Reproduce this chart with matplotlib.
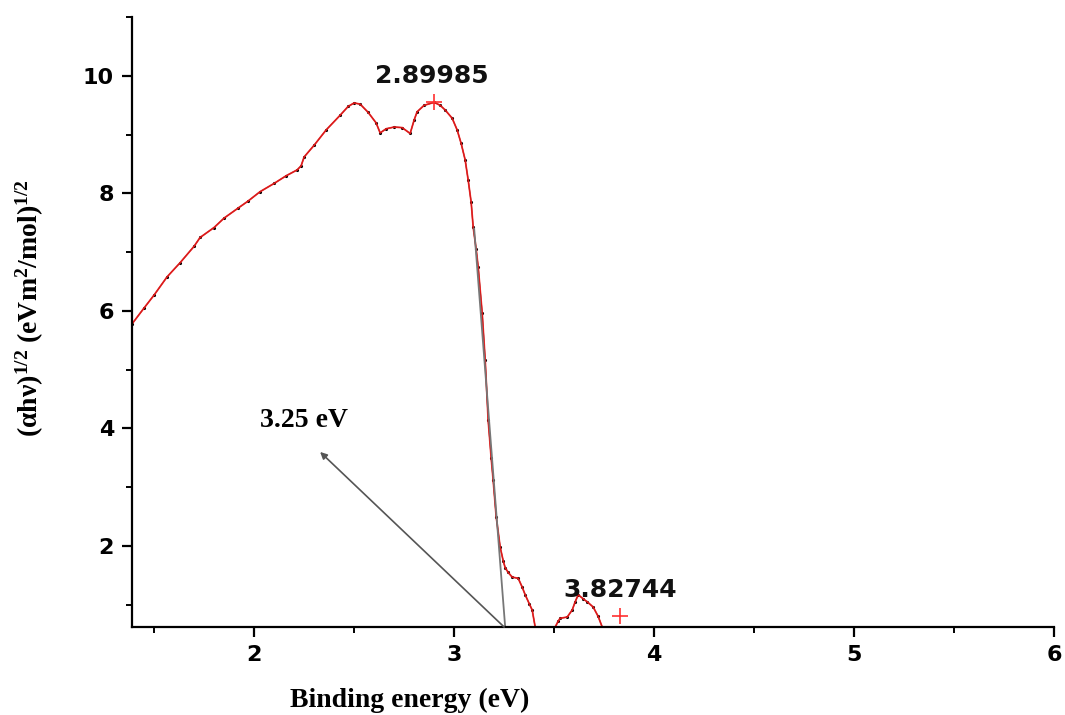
import numpy as np
import matplotlib
matplotlib.use("Agg")
import matplotlib.pyplot as plt

plt.rcParams['mathtext.fontset'] = 'custom'
plt.rcParams['mathtext.bf'] = 'Liberation Serif:bold'
plt.rcParams['mathtext.rm'] = 'Liberation Serif:bold'
plt.rcParams['mathtext.default'] = 'bf'

# main absorption curve
energy_main = [1.39, 1.45, 1.50, 1.565, 1.63, 1.70, 1.73, 1.80, 1.85, 1.92, 1.97,
               2.03, 2.10, 2.16, 2.215, 2.235, 2.25, 2.30, 2.36, 2.43, 2.47, 2.50,
               2.53, 2.57, 2.61, 2.63, 2.66, 2.70, 2.74, 2.78, 2.80, 2.815, 2.85,
               2.90, 2.93, 2.955, 2.99, 3.015, 3.035, 3.055, 3.07, 3.085, 3.095,
               3.11, 3.12, 3.14, 3.155, 3.17, 3.185, 3.195, 3.21, 3.23, 3.245,
               3.255, 3.27, 3.29, 3.32, 3.34, 3.355, 3.375, 3.39, 3.405]
signal_main = [5.78, 6.05, 6.27, 6.58, 6.82, 7.10, 7.25, 7.42, 7.58, 7.75, 7.87,
               8.03, 8.17, 8.30, 8.40, 8.47, 8.62, 8.82, 9.08, 9.33, 9.48, 9.54,
               9.52, 9.38, 9.20, 9.03, 9.10, 9.13, 9.12, 9.02, 9.25, 9.39, 9.50,
               9.55, 9.50, 9.42, 9.28, 9.08, 8.85, 8.57, 8.23, 7.85, 7.43,
               7.05, 6.75, 5.97, 5.17, 4.14, 3.50, 3.12, 2.50, 1.98, 1.75,
               1.63, 1.55, 1.47, 1.45, 1.30, 1.17, 1.02, 0.91, 0.62]

# small second band
energy_tail = [3.505, 3.52, 3.53, 3.565, 3.59, 3.605, 3.62, 3.645, 3.665, 3.695, 3.72, 3.74]
signal_tail = [0.62, 0.72, 0.77, 0.79, 0.91, 1.05, 1.17, 1.10, 1.05, 0.96, 0.80, 0.62]

# peak markers and labels
peak_x = [2.90, 3.83]
peak_y = [9.55, 0.81]
peak_labels = ['2.89985', '3.82744']
label_pos = [(2.89, 10.0), (3.83, 1.25)]

# tangent line and band gap arrow
tangent_x = [3.255, 3.10]
tangent_y = [0.62, 7.40]
gap_value = 3.25
arrow_tip = (2.33, 3.60)

fig = plt.figure(figsize=(10.65, 7.15), dpi=100)
ax = fig.add_axes([0.124, 0.123, 0.866, 0.853])

# black data points under the red line
ax.plot(energy_main, signal_main, color='black', lw=0.8, marker='.', ms=2.5)
ax.plot(energy_tail, signal_tail, color='black', lw=0.8, marker='.', ms=2.5)
ax.plot(energy_main, signal_main, color='#ff1a1a', lw=1.3, alpha=0.85)
ax.plot(energy_tail, signal_tail, color='#ff1a1a', lw=1.3, alpha=0.85)

ax.plot(peak_x, peak_y, ls='none', marker='+', color='#ff3030', ms=11, mew=1.2)
for lab, (lx, ly) in zip(peak_labels, label_pos):
    ax.text(lx, ly, lab, ha='center', va='center', fontsize=18,
            family='DejaVu Sans', fontweight='bold', color='#111111')

ax.plot(tangent_x, tangent_y, color='#777777', lw=1.3)
ax.annotate('', xy=arrow_tip, xytext=(gap_value, 0.62),
            arrowprops=dict(arrowstyle='-|>', color='#555555', lw=1.2,
                            mutation_scale=10, shrinkA=0, shrinkB=0))
ax.text(2.25, 4.14, f'{gap_value} eV', ha='center', va='center', fontsize=20,
        family='Liberation Serif', fontweight='bold')

ax.set_xlim(1.39, 6.0)
ax.set_ylim(0.62, 11.0)
ax.set_xticks([2, 3, 4, 5, 6])
ax.set_xticks([1.5, 2.5, 3.5, 4.5, 5.5], minor=True)
ax.set_yticks([2, 4, 6, 8, 10])
ax.set_yticks([1, 3, 5, 7, 9, 11], minor=True)

for s in ['top', 'right']:
    ax.spines[s].set_visible(False)
for s in ['left', 'bottom']:
    ax.spines[s].set_linewidth(1.6)
ax.tick_params(which='major', direction='out', length=7, width=1.6, pad=6)
ax.tick_params(which='minor', direction='out', length=4, width=1.4)
for lab in ax.get_xticklabels() + ax.get_yticklabels():
    lab.set_fontfamily('DejaVu Sans')
    lab.set_fontweight('bold')
    lab.set_fontsize(16)

fig.text(0.385, 0.021, 'Binding energy (eV)', ha='center', va='center',
         fontsize=20, family='Liberation Serif', fontweight='bold')
fig.text(0.028, 0.569, r'(αhν)$^{1/2}$ (eVm$^{2}$/mol)$^{1/2}$', rotation=90,
         ha='center', va='center', fontsize=20, family='Liberation Serif',
         fontweight='bold')

fig.savefig('out.png', dpi=100)
